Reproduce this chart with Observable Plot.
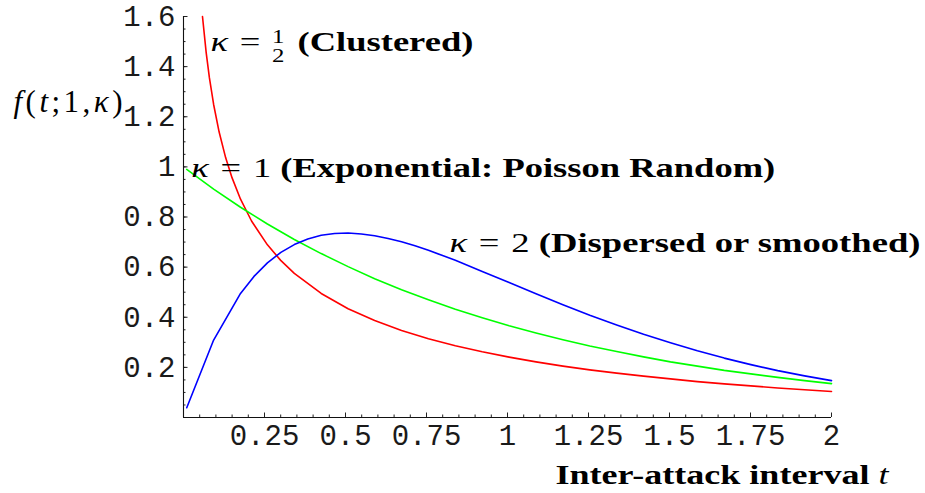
<!DOCTYPE html>
<html>
<head>
<meta charset="utf-8">
<script src="https://cdn.jsdelivr.net/npm/d3@7"></script>
<script src="https://cdn.jsdelivr.net/npm/@observablehq/plot@0.6"></script>
<style>
  html, body { margin: 0; padding: 0; background: #ffffff; }
  #chart svg { display: block; }
</style>
</head>
<body>
<div id="chart"></div>
<script>
// ---- data ----
const tSamples = [0.01, 0.093, 0.176, 0.259, 0.342, 0.425, 0.508, 0.590, 0.673, 0.756, 0.839, 0.922, 1.005,
                  1.088, 1.171, 1.254, 1.337, 1.420, 1.503, 1.586, 1.669, 1.751, 1.834, 1.917, 2.000];
const kappaOne = [0.990, 0.911, 0.839, 0.772, 0.710, 0.654, 0.602, 0.554, 0.510, 0.470, 0.432, 0.398, 0.366,
                  0.337, 0.310, 0.285, 0.263, 0.242, 0.222, 0.205, 0.188, 0.174, 0.160, 0.147, 0.135];
const tTwo = [0.01, 0.093, 0.176, 0.2175, 0.259, 0.3005, 0.342, 0.3835, 0.425, 0.4665, 0.508, 0.549, 0.590,
              0.6315, 0.673, 0.7145, 0.756, 0.7975, 0.839, 0.922, 1.005, 1.088, 1.171, 1.254, 1.337, 1.420,
              1.503, 1.586, 1.669, 1.751, 1.834, 1.917, 2.000];
const kappaTwo = [0.039, 0.309, 0.495, 0.563, 0.617, 0.659, 0.690, 0.712, 0.727, 0.734, 0.736, 0.732, 0.725,
                  0.714, 0.701, 0.685, 0.667, 0.647, 0.627, 0.583, 0.539, 0.494, 0.450, 0.408, 0.369, 0.332,
                  0.298, 0.266, 0.237, 0.211, 0.187, 0.166, 0.147];
const tHalf = [0.0586, 0.07, 0.08, 0.093, 0.11, 0.13, 0.15, 0.176, 0.21, 0.259, 0.30, 0.342, 0.425, 0.508,
               0.590, 0.673, 0.756, 0.839, 0.922, 1.005, 1.088, 1.171, 1.254, 1.337, 1.420, 1.503, 1.586,
               1.669, 1.751, 1.834, 1.917, 2.000];
const kappaHalf = [1.600, 1.456, 1.355, 1.249, 1.139, 1.037, 0.956, 0.871, 0.784, 0.689, 0.627, 0.575, 0.495,
                   0.434, 0.387, 0.347, 0.314, 0.286, 0.262, 0.241, 0.222, 0.205, 0.190, 0.177, 0.165, 0.154,
                   0.143, 0.134, 0.126, 0.118, 0.111, 0.104];

const xTicks = [0.25, 0.5, 0.75, 1, 1.25, 1.5, 1.75, 2];
const xTickLabels = ["0.25", "0.5", "0.75", "1", "1.25", "1.5", "1.75", "2"];
const yTicks = [0.2, 0.4, 0.6, 0.8, 1, 1.2, 1.4, 1.6];
const yTickLabels = ["0.2", "0.4", "0.6", "0.8", "1", "1.2", "1.4", "1.6"];
const curveLabels = ["κ = 1/2 (Clustered)", "κ = 1 (Exponential: Poisson Random)", "κ = 2 (Dispersed or smoothed)"];
const xTitle = "Inter-attack interval t";
const yTitle = "f(t;1,κ)";

// ---- chart ----
const xMinor = d3.range(1, 41).map(i => +(i * 0.05).toFixed(2));
const yMinor = d3.range(1, 33).map(i => +(i * 0.05).toFixed(2));
const xLab = new Map(xTicks.map((v, i) => [v, xTickLabels[i]]));
const yLab = new Map(yTicks.map((v, i) => [v, yTickLabels[i]]));
const mono = "'Liberation Mono', 'DejaVu Sans Mono', monospace";
const serif = "'Liberation Serif', 'DejaVu Serif', serif";
const F = 28;

const plot = Plot.plot({
  width: 925,
  height: 493,
  marginLeft: 183,
  marginRight: 94,
  marginTop: 16,
  marginBottom: 76,
  x: {domain: [0, 2]},
  y: {domain: [0, 1.6]},
  style: {background: "white", fontFamily: serif, overflow: "visible", color: "black"},
  marks: [
    // inward ticks
    Plot.axisX(xMinor, {anchor: "bottom", tickSize: 2.5, dy: -2.5, tickFormat: () => "", label: null, stroke: "#222"}),
    Plot.axisX(xTicks, {anchor: "bottom", tickSize: 4.5, dy: -4.5, tickFormat: () => "", label: null, stroke: "#222"}),
    Plot.axisY(yMinor, {anchor: "left", tickSize: 2.5, dx: 2.5, tickFormat: () => "", label: null, stroke: "#222"}),
    Plot.axisY(yTicks, {anchor: "left", tickSize: 4.5, dx: 4.5, tickFormat: () => "", label: null, stroke: "#222"}),
    // tick labels
    Plot.axisX(xTicks, {anchor: "bottom", tickSize: 0, tickPadding: 7, tickFormat: d => xLab.get(d),
      label: null, fontFamily: mono, fontSize: 29, fill: "#1a1a1a"}),
    Plot.axisY(yTicks, {anchor: "left", tickSize: 0, tickPadding: 8, tickFormat: d => yLab.get(d),
      label: null, fontFamily: mono, fontSize: 29, fill: "#1a1a1a"}),
    // axis lines
    Plot.ruleY([0], {stroke: "#111", strokeWidth: 1.1}),
    Plot.ruleX([0], {stroke: "#111", strokeWidth: 1.1}),
    // curves
    Plot.line(tHalf, {x: d => d, y: (d, i) => kappaHalf[i], stroke: "#ff0000", strokeWidth: 1.6}),
    Plot.line(tSamples, {x: d => d, y: (d, i) => kappaOne[i], stroke: "#00ff00", strokeWidth: 1.6}),
    Plot.line(tTwo, {x: d => d, y: (d, i) => kappaTwo[i], stroke: "#0000ff", strokeWidth: 1.6}),
    // curve annotations
    Plot.text([curveLabels[0]], {x: () => 0.083, y: () => 1.500, text: d => d, textAnchor: "start", fontSize: F, fill: "black"}),
    Plot.text([curveLabels[1]], {x: () => 0.024, y: () => 0.994, text: d => d, textAnchor: "start", fontSize: F, fill: "black"}),
    Plot.text([curveLabels[2]], {x: () => 0.821, y: () => 0.698, text: d => d, textAnchor: "start", fontSize: F, fill: "black"}),
    // axis titles
    Plot.text([xTitle], {frameAnchor: "bottom-left", dx: 372, dy: 66, text: d => d, textAnchor: "start", fontSize: F, fill: "black"}),
    Plot.text([yTitle], {frameAnchor: "top-left", dx: -170, dy: 73, text: d => d, textAnchor: "start", fontSize: 31, fill: "black"})
  ]
});

document.getElementById("chart").appendChild(plot);

// ---- rich text (italic math, bold words, stacked fraction) ----
function rich(node, parts, width, adjust) {
  const sel = d3.select(node);
  sel.text(null);
  for (const p of parts) {
    const ts = sel.append("tspan").text(p.s);
    if (p.it) ts.attr("font-style", "italic");
    if (p.b) ts.attr("font-weight", "bold");
    if (p.size) ts.attr("font-size", p.size);
    if (p.dx) ts.attr("dx", p.dx);
    if (p.dy) ts.attr("dy", p.dy);
  }
  if (width) sel.attr("textLength", width).attr("lengthAdjust", adjust || "spacingAndGlyphs");
}
function curveParts(label) {
  const k = label.indexOf("(");
  const math = label.slice(0, k).trim();     // e.g. "κ = 1/2"
  const words = label.slice(k);
  const num = math.split("=")[1].trim();
  const parts = [{s: "κ", it: true}, {s: " = ", dx: 2}];
  if (num.includes("/")) {
    const [a, b] = num.split("/");
    parts.push({s: a, size: 19, dy: -8, dx: 2});
    parts.push({s: b, size: 19, dx: -9.5, dy: 19});
    parts.push({s: " " + words, b: true, dy: -11, dx: 3});
  } else {
    parts.push({s: num, dx: 2});
    parts.push({s: " " + words, b: true});
  }
  return parts;
}
const widths = [263, 584, 471];
d3.select(plot).selectAll("text").each(function () {
  const t = this.textContent;
  const ci = curveLabels.indexOf(t);
  if (ci >= 0) rich(this, curveParts(t), widths[ci]);
  else if (t === xTitle) {
    rich(this, [{s: xTitle.slice(0, -1), b: true}, {s: xTitle.slice(-1), it: true}], 333);
  } else if (t === yTitle) {
    rich(this, [{s: "f", it: true}, {s: "("}, {s: "t", it: true}, {s: ";"}, {s: "1"}, {s: ","},
                {s: "κ", it: true}, {s: ")"}], 109, "spacing");
  }
});
</script>
</body>
</html>
